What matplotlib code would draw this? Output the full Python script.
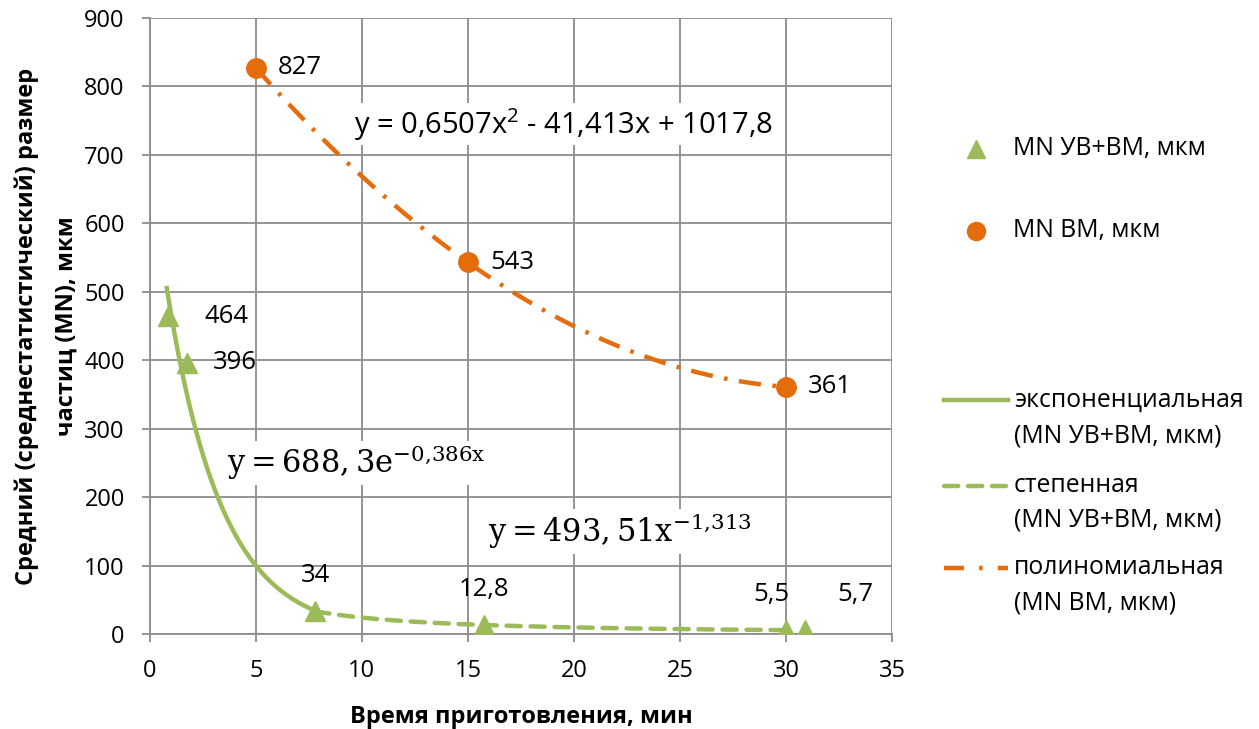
import numpy as np
import matplotlib
matplotlib.use('Agg')
import matplotlib.pyplot as plt
from matplotlib.lines import Line2D

plt.rcParams['font.family'] = ['Open Sans', 'DejaVu Sans']
plt.rcParams['mathtext.fontset'] = 'dejavuserif'

# data
uv_x = [0.85, 1.75, 7.8, 15.75, 30.0, 30.9]
uv_y = [464, 396, 34, 12.8, 5.5, 5.7]
uv_labels = ['464', '396', '34', '12,8', '5,5', '5,7']
vm_x = [5, 15, 30]
vm_y = [827, 543, 361]
vm_labels = ['827', '543', '361']

# trendline coefficients as printed on the chart
exp_a, exp_b = 688.3, -0.386
pow_a, pow_b = 493.51, -1.313
poly_c = [0.6507, -41.413, 1017.8]

green = '#9BBB59'
orange = '#E46C0A'

fig = plt.figure(figsize=(12.59, 7.29), dpi=100)
ax = fig.add_axes([0.119, 0.1303, 0.5895, 0.845])

# trendlines
xe = np.linspace(0.8, 7.8, 100)
ax.plot(xe, exp_a * np.exp(exp_b * xe), color=green, lw=3.2, zorder=2)
xp = np.linspace(7.8, 30, 200)
ax.plot(xp, pow_a * xp ** pow_b, color=green, lw=3.2, ls=(0, (3.2, 2.2)),
        dash_capstyle='round', zorder=2)
xq = np.linspace(5, 30, 200)
ax.plot(xq, np.polyval(poly_c, xq), color=orange, lw=3.2, ls=(0, (5, 2.6, 0.8, 2.6)),
        zorder=2)

# points
ax.plot(uv_x, uv_y, '^', color=green, ms=15, ls='none', zorder=3)
ax.plot(vm_x, vm_y, 'o', color=orange, ms=14, ls='none', zorder=3)

lbl = dict(fontsize=18.5, color='black', zorder=4)
offs = [(1.75, 0), (1.2, 0), (0, 52), (0, 52), (-0.7, 52), (2.35, 52)]
for x, y, s, (dx, dy) in zip(uv_x, uv_y, uv_labels, offs):
    ha = 'left' if dy == 0 else 'center'
    ax.text(x + dx, y + dy, s, ha=ha, va='center', **lbl)
for x, y, s in zip(vm_x, vm_y, vm_labels):
    ax.text(x + 1.05, y, s, ha='left', va='center', **lbl)

box = dict(facecolor='white', edgecolor='none', pad=2)
ax.text(9.65, 745, r'y = 0,6507x$^{\mathregular{2}}$ - 41,413x + 1017,8', fontsize=21,
        ha='left', va='center', bbox=box, zorder=4)
ax.text(3.65, 250, r'$\mathregular{y = 688,3e^{-0{,}386x}}$', fontsize=22,
        family='DejaVu Serif', ha='left', va='center', bbox=box, zorder=4)
ax.text(15.95, 150, r'$\mathregular{y = 493,51x^{-1{,}313}}$', fontsize=22,
        family='DejaVu Serif', ha='left', va='center', bbox=box, zorder=4)

ax.set_xlim(0, 35)
ax.set_ylim(0, 900)
ax.set_xticks(range(0, 36, 5))
ax.set_yticks(range(0, 901, 100))
ax.grid(True, color='#8c8c8c', lw=1.3, zorder=0)
ax.set_axisbelow(True)
for side in ['top', 'right']:
    ax.spines[side].set_visible(False)
for side in ['left', 'bottom']:
    ax.spines[side].set_color('#8c8c8c')
    ax.spines[side].set_linewidth(1.3)
ax.tick_params(axis='both', labelsize=17, color='#8c8c8c', width=1.3, length=6)
ax.tick_params(axis='x', pad=12)
ax.tick_params(axis='y', pad=12)

ax.set_xlabel('Время приготовления, мин', fontsize=17, fontweight='bold', labelpad=16)
ax.set_ylabel('Средний (среднестатистический) размер\nчастиц (MN), мкм', fontsize=17,
              fontweight='bold', labelpad=4, linespacing=1.85)

# legend drawn by hand in figure coordinates
W, H = 1259, 729
def fx(px):
    return px / W
def fy(py):
    return 1 - py / H

fs_leg = 17.8
fig.add_artist(Line2D([fx(976)], [fy(149)], marker='^', color=green, ms=13, ls='none'))
fig.text(fx(1013), fy(149), 'MN УВ+ВМ, мкм', fontsize=fs_leg, va='center')
fig.add_artist(Line2D([fx(976)], [fy(231)], marker='o', color=orange, ms=13, ls='none'))
fig.text(fx(1013), fy(231), 'MN ВМ, мкм', fontsize=fs_leg, va='center')

fig.add_artist(Line2D([fx(944), fx(1008)], [fy(400), fy(400)], color=green, lw=3.2))
fig.text(fx(1014), fy(400), 'экспоненциальная', fontsize=fs_leg, va='center')
fig.text(fx(1014), fy(436), '(MN УВ+ВМ, мкм)', fontsize=fs_leg, va='center')
fig.add_artist(Line2D([fx(944), fx(1006)], [fy(486), fy(486)], color=green, lw=3.2,
                      ls=(0, (3.2, 2.2)), dash_capstyle='round'))
fig.text(fx(1014), fy(486), 'степенная', fontsize=fs_leg, va='center')
fig.text(fx(1014), fy(520), '(MN УВ+ВМ, мкм)', fontsize=fs_leg, va='center')
fig.add_artist(Line2D([fx(944), fx(1008)], [fy(568), fy(568)], color=orange, lw=3.2,
                      ls=(0, (4.5, 3.4, 0.8, 3.4))))
fig.text(fx(1014), fy(568), 'полиномиальная', fontsize=fs_leg, va='center')
fig.text(fx(1014), fy(603), '(MN ВМ, мкм)', fontsize=fs_leg, va='center')

fig.savefig('out.png', dpi=100)
